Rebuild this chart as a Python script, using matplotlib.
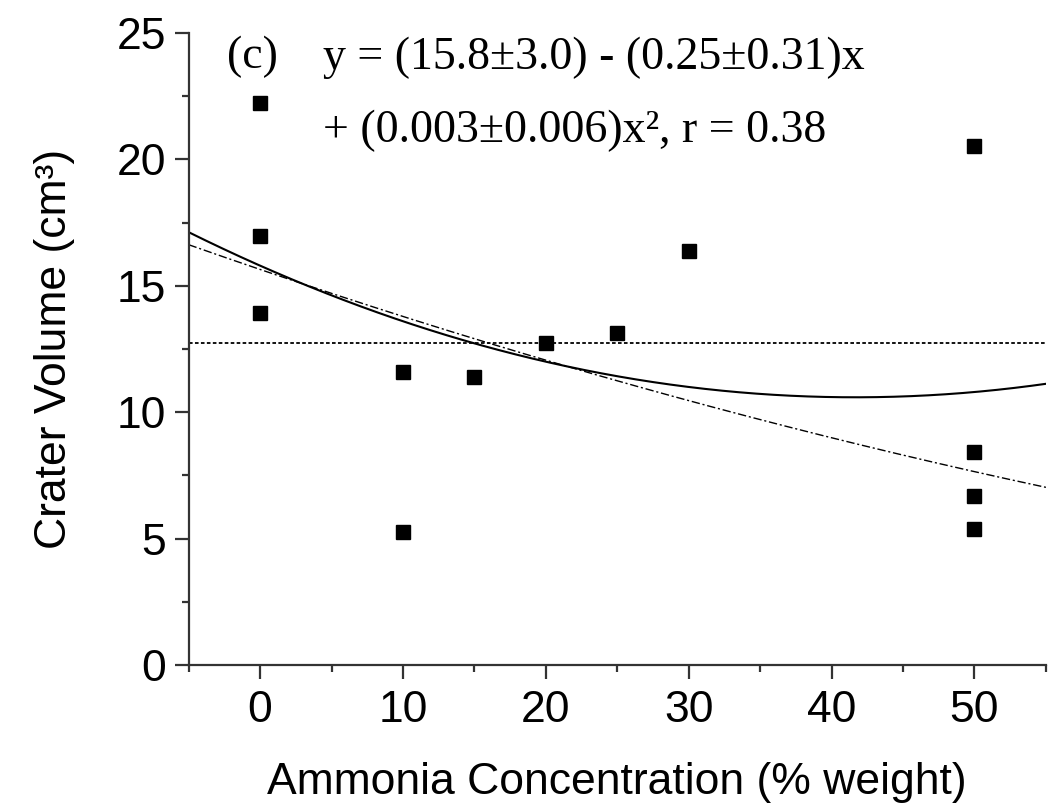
import numpy as np
import matplotlib
matplotlib.use('Agg')
import matplotlib.pyplot as plt

# measured points
conc = [0, 0, 0, 10, 10, 15, 20, 25, 30, 50, 50, 50, 50]
volume = [22.24, 16.97, 13.91, 11.60, 5.27, 11.38, 12.74, 13.15, 16.39,
          20.53, 8.44, 6.67, 5.37]

# fitted curves (coefficients highest power first)
quad_fit = [0.003, -0.25, 15.8]
trend_fit = [0.00065, -0.1925, 15.65]   # dash-dot curve
mean_volume = 12.73

xticks = [0, 10, 20, 30, 40, 50]
yticks = [0, 5, 10, 15, 20, 25]

plt.rcParams['font.family'] = ['Liberation Sans', 'DejaVu Sans']

fig = plt.figure(figsize=(10.48, 8.08), dpi=100)
ax = fig.add_axes([0.180, 0.177, 0.818, 0.782])

x = np.linspace(-5, 55, 300)
ax.plot(x, np.polyval(quad_fit, x), color='black', lw=1.5)
ax.plot(x, np.polyval(trend_fit, x), color='black', lw=1.0,
        linestyle=(0, (6, 2, 1.5, 2)))
ax.axhline(mean_volume, color='black', lw=1.3, linestyle=(0, (2, 1.3)))
ax.plot(conc, volume, 's', color='black', ms=10.5, linestyle='none')

ax.set_xlim(-5, 55)
ax.set_ylim(0, 25)
ax.set_xticks(xticks)
ax.set_yticks(yticks)
ax.set_xticks(np.arange(-5, 56, 10), minor=True)
ax.set_yticks(np.arange(2.5, 25, 5), minor=True)

for side in ['top', 'right']:
    ax.spines[side].set_visible(False)
for side in ['left', 'bottom']:
    ax.spines[side].set_linewidth(1.6)
    ax.spines[side].set_color('#333333')

ax.tick_params(which='major', direction='out', length=10, width=1.6,
               color='#333333', labelsize=32, pad=6)
ax.tick_params(axis='x', which='major', pad=8)
ax.tick_params(which='minor', direction='out', length=5, width=1.6,
               color='#333333')

ax.set_xlabel('Ammonia Concentration (% weight)', fontsize=32, labelpad=22)
ax.set_ylabel('Crater Volume (cm³)', fontsize=32, labelpad=30)

serif = ['Liberation Serif', 'DejaVu Serif']
ax.text(-2.3, 23.6, '(c)', family=serif, fontsize=33, va='baseline')
ax.text(4.4, 23.6, 'y = (15.8±3.0) - (0.25±0.31)x', family=serif,
        fontsize=33, va='baseline')
ax.text(4.4, 20.7, '+ (0.003±0.006)x², r = 0.38', family=serif,
        fontsize=33, va='baseline')

fig.savefig('out.png', dpi=100)
